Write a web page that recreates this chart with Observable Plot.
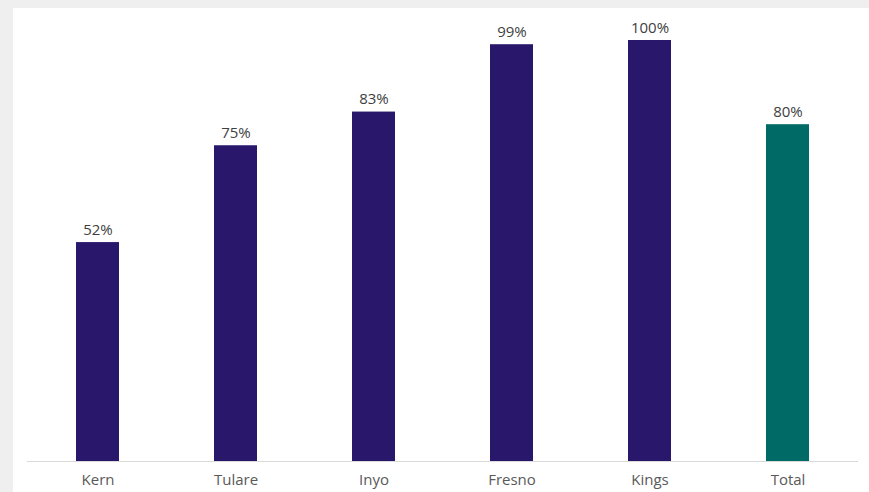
<!DOCTYPE html>
<html>
<head>
<meta charset="utf-8">
<script src="https://cdn.jsdelivr.net/npm/d3@7"></script>
<script src="https://cdn.jsdelivr.net/npm/@observablehq/plot@0.6"></script>
<style>
  html, body { margin: 0; padding: 0; background: #efefef; }
  #frame { position: absolute; left: 13px; top: 8px; width: 856px; height: 484px; background: #fff; }
  svg { display: block; }
</style>
</head>
<body>
<div id="frame"></div>
<script>
const categories = ["Kern", "Tulare", "Inyo", "Fresno", "Kings", "Total"];
const values = [52, 75, 83, 99, 100, 80];
const colors = ["#29176b", "#29176b", "#29176b", "#29176b", "#29176b", "#006b66"];

const data = categories.map((c, i) => ({ category: c, value: values[i], color: colors[i] }));

const chart = Plot.plot({
  width: 856,
  height: 484,
  marginLeft: 14,
  marginRight: 11,
  marginTop: 32,
  marginBottom: 31,
  style: { fontFamily: "'Open Sans', sans-serif", background: "#fff" },
  x: { domain: categories, paddingInner: 0.69, paddingOuter: 0.345, label: null },
  y: { domain: [0, 100], axis: null },
  marks: [
    Plot.barY(data, { x: "category", y: "value", fill: "color" }),
    Plot.ruleY([0], { stroke: "#d9d9d9", strokeWidth: 1 }),
    Plot.text(data, { x: "category", y: "value", text: d => d.value + "%", lineAnchor: "bottom", dy: -8, fontSize: 15, fill: "#404040" }),
    Plot.axisX({ tickSize: 0, tickPadding: 13, fontSize: 15, color: "#595959", label: null })
  ]
});
document.getElementById("frame").appendChild(chart);
</script>
</body>
</html>
